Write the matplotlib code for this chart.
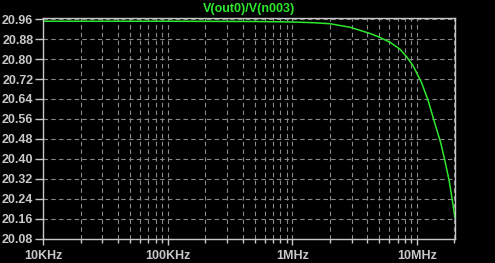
import matplotlib
matplotlib.use("Agg")
import matplotlib.pyplot as plt
from matplotlib.ticker import FixedLocator, LogLocator, NullFormatter

# frequency response
freq_hz = [1e4, 1e5, 5e5, 1e6, 1.5e6, 2.0e6, 2.9e6, 4.2e6, 5.0e6, 6.1e6,
           7.3e6, 8.3e6, 9.3e6, 10.9e6, 12.3e6, 13.9e6, 15.5e6, 16.7e6,
           18.1e6, 19.2e6, 20.2e6]
gain = [20.952, 20.952, 20.951, 20.949, 20.946, 20.942, 20.928, 20.903,
        20.888, 20.867, 20.840, 20.808, 20.774, 20.705, 20.634, 20.543,
        20.465, 20.396, 20.314, 20.236, 20.162]

y_ticks = [20.08, 20.16, 20.24, 20.32, 20.40, 20.48, 20.56, 20.64, 20.72,
           20.80, 20.88, 20.96]
x_ticks = [1e4, 1e5, 1e6, 1e7]
x_labels = ["10KHz", "100KHz", "1MHz", "10MHz"]
title = "V(out0)/V(n003)"

fg = "#c8c8c8"
green = "#2ee82e"
font = ["Liberation Sans", "DejaVu Sans"]

fig = plt.figure(figsize=(4.95, 2.63), dpi=100, facecolor="black")
ax = fig.add_axes([43 / 495, 1 - 238.5 / 263, 412 / 495, 220.5 / 263])
ax.set_facecolor("black")

ax.semilogx(freq_hz, gain, color=green, lw=1.1)
ax.set_xlim(1e4, 2.02e7)
ax.set_ylim(20.08, 20.965)

ax.xaxis.set_major_locator(FixedLocator(x_ticks))
ax.xaxis.set_minor_locator(LogLocator(base=10, subs=range(2, 10)))
ax.xaxis.set_minor_formatter(NullFormatter())
ax.set_xticks(x_ticks)
ax.set_xticklabels(x_labels)
ax.set_yticks(y_ticks)
ax.set_yticklabels([f"{v:.2f}" for v in y_ticks])

grid_kw = dict(color="#8a8a8a", lw=0.8, linestyle=(0, (4, 3)))
ax.grid(True, which="major", axis="both", **grid_kw)
ax.grid(True, which="minor", axis="x", **grid_kw)
ax.set_axisbelow(True)

for s in ax.spines.values():
    s.set_color(fg)
    s.set_linewidth(1.0)

ax.tick_params(axis="both", which="both", colors=fg, direction="out")
ax.tick_params(axis="y", length=6, width=1, pad=1)
ax.tick_params(axis="x", which="major", length=4, width=1, pad=4)
ax.tick_params(axis="x", which="minor", length=3, width=1)
for lab in ax.get_xticklabels() + ax.get_yticklabels():
    lab.set_family(font)
    lab.set_fontweight("bold")
    lab.set_fontsize(9)
    lab.set_color(fg)

fig.text(249 / 495, 1 - 9 / 263, title, color=green, ha="center", va="center",
         fontsize=9, fontweight="bold", family=font)

fig.savefig("out.png", dpi=100, facecolor="black")
